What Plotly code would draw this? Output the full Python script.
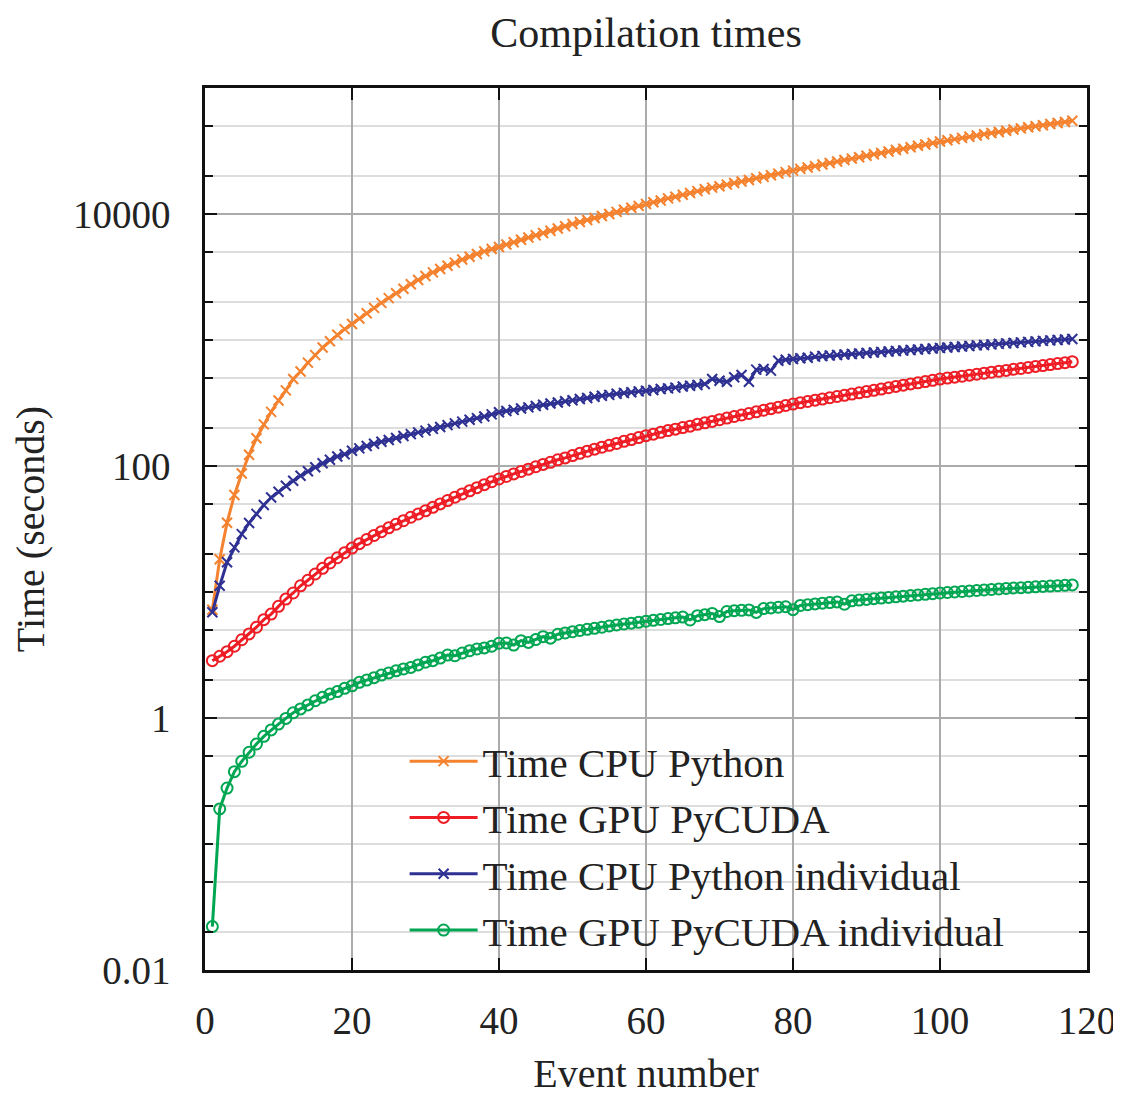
import plotly.graph_objects as go

# Event numbers 1..118
events = list(range(1, 119))

time_cpu_python = [
    7.24, 18.2, 35.5, 58.9, 87.1, 123, 166, 214, 269, 331,
    398, 490, 562, 661, 759, 871, 977, 1100, 1220, 1340,
    1480, 1630, 1800, 1970, 2150, 2350, 2550, 2770, 2990, 3220,
    3440, 3660, 3880, 4110, 4350, 4580, 4820, 5050, 5270, 5470,
    5720, 5970, 6240, 6500, 6780, 7060, 7360, 7670, 8000, 8320,
    8630, 8950, 9290, 9640, 10000, 10400, 10800, 11200, 11600, 12000,
    12400, 12800, 13300, 13700, 14200, 14700, 15200, 15700, 16200, 16600,
    17100, 17600, 18100, 18600, 19200, 19700, 20300, 20900, 21500, 22100,
    22800, 23400, 24000, 24700, 25400, 26100, 26800, 27500, 28200, 29000,
    29800, 30500, 31300, 32200, 33000, 33900, 34800, 35600, 36600, 37600,
    38500, 39300, 40200, 41000, 42000, 42900, 43900, 44800, 45800, 46800,
    47800, 48800, 49700, 50700, 51800, 52800, 53800, 55000,
]

time_gpu_pycuda = [
    2.85, 3.09, 3.36, 3.71, 4.18, 4.65, 5.25, 6.03, 6.68, 7.69,
    8.79, 9.82, 11.2, 12.4, 13.9, 15.4, 17.0, 18.7, 20.5, 22.3,
    24.2, 26.1, 28.1, 30.1, 32.3, 34.5, 36.8, 39.2, 41.6, 44.1,
    47.0, 50.0, 53.2, 56.5, 60.0, 63.5, 67.3, 71.1, 75.0, 78.9,
    82.6, 86.5, 90.4, 94.4, 98.6, 103, 107, 112, 116, 121,
    126, 131, 136, 141, 146, 151, 157, 162, 168, 174,
    179, 185, 191, 196, 202, 207, 214, 220, 226, 233,
    240, 247, 254, 261, 269, 277, 285, 293, 302, 310,
    318, 325, 333, 340, 348, 356, 364, 372, 381, 390,
    399, 408, 418, 428, 438, 448, 457, 468, 479, 490,
    499, 507, 516, 526, 535, 545, 555, 564, 574, 585,
    594, 605, 617, 627, 638, 650, 661, 673,
]

time_cpu_python_individual = [
    6.90, 11.2, 17.2, 22.6, 28.8, 35.3, 41.7, 49.0, 56.2, 62.5,
    69.8, 76.4, 83.8, 90.8, 97.7, 105, 112, 119, 124, 132,
    138, 144, 150, 156, 161, 167, 173, 179, 185, 191,
    197, 204, 211, 218, 225, 233, 240, 247, 257, 267,
    273, 279, 286, 292, 299, 306, 313, 319, 326, 333,
    340, 347, 354, 361, 367, 374, 380, 385, 391, 396,
    401, 408, 413, 419, 427, 434, 440, 448, 490, 475,
    467, 506, 527, 467, 582, 589, 571, 685, 698, 706,
    716, 724, 738, 746, 753, 760, 767, 774, 782, 789,
    796, 804, 811, 818, 826, 834, 841, 849, 857, 865,
    873, 881, 889, 897, 906, 914, 923, 931, 940, 948,
    957, 966, 975, 984, 993, 1000, 1010, 1020,
]

time_gpu_pycuda_individual = [
    0.0221, 0.190, 0.278, 0.375, 0.453, 0.535, 0.622, 0.715, 0.804, 0.895,
    0.993, 1.10, 1.18, 1.27, 1.37, 1.46, 1.55, 1.62, 1.72, 1.80,
    1.92, 2.00, 2.09, 2.19, 2.28, 2.37, 2.45, 2.52, 2.64, 2.77,
    2.85, 2.99, 3.16, 3.12, 3.28, 3.42, 3.53, 3.60, 3.71, 3.92,
    3.94, 3.79, 4.11, 3.98, 4.19, 4.42, 4.30, 4.62, 4.73, 4.84,
    4.95, 5.06, 5.15, 5.25, 5.37, 5.47, 5.57, 5.66, 5.75, 5.86,
    5.96, 6.05, 6.15, 6.24, 6.32, 6.00, 6.49, 6.61, 6.76, 6.38,
    7.00, 7.11, 7.16, 7.21, 6.89, 7.38, 7.48, 7.57, 7.64, 7.24,
    7.82, 7.93, 8.04, 8.15, 8.24, 8.34, 8.00, 8.51, 8.63, 8.73,
    8.85, 8.95, 9.06, 9.16, 9.27, 9.38, 9.48, 9.59, 9.70, 9.82,
    9.91, 10.0, 10.09, 10.19, 10.28, 10.38, 10.47, 10.57, 10.67, 10.74,
    10.81, 10.89, 10.99, 11.07, 11.14, 11.22, 11.30, 11.38,
]

x_ticks = [0, 20, 40, 60, 80, 100, 120]
y_major_ticks = [0.01, 1, 100, 10000]
y_major_labels = ["0.01", "1", "100", "10000"]
y_minor_ticks = [0.02, 0.05, 0.1, 0.2, 0.5, 2, 5, 10, 20, 50,
                 200, 500, 1000, 2000, 5000, 20000, 50000]

series = [
    ("Time CPU Python", time_cpu_python, "#F4822F", "x-thin"),
    ("Time GPU PyCUDA", time_gpu_pycuda, "#EE1D25", "circle-open"),
    ("Time CPU Python individual", time_cpu_python_individual, "#2E3192", "x-thin"),
    ("Time GPU PyCUDA individual", time_gpu_pycuda_individual, "#00A651", "circle-open"),
]

FONT = "Liberation Serif, DejaVu Serif, serif"

fig = go.Figure()
for name, vals, color, sym in series:
    fig.add_trace(go.Scatter(
        x=events[:len(vals)], y=vals, name=name, mode="lines+markers",
        line=dict(color=color, width=3),
        marker=dict(symbol=sym, size=11 if sym == "circle-open" else 10,
                    color=color, line=dict(color=color, width=2)),
    ))

# the page adds an 8px offset; plot area lands at x 205..1087, y 88..970
fig.update_layout(
    width=1121, height=1106,
    margin=dict(l=197, r=42, t=80, b=144),
    paper_bgcolor="white", plot_bgcolor="white",
    font=dict(family=FONT, size=39, color="#222222"),
    title=dict(text="Compilation times", x=(197 + 1079) / 2 / 1121, xanchor="center",
               y=1 - 24 / 1106, yanchor="middle", font=dict(size=42)),
    showlegend=True,
    legend=dict(x=0.2263, y=0.2744, xanchor="left", yanchor="top",
                bgcolor="rgba(0,0,0,0)", borderwidth=0,
                font=dict(size=41), itemwidth=68, tracegroupgap=0),
)

fig.update_xaxes(
    range=[0, 120], tickvals=x_ticks, ticks="inside", ticklen=12, tickwidth=2,
    tickcolor="#111111", showline=True, linecolor="#111111", linewidth=2.5,
    mirror="ticks", showgrid=True, gridcolor="#ABABAB", gridwidth=2,
    zeroline=False, ticklabelstandoff=14,
    title=dict(text="Event number", standoff=19, font=dict(size=40)),
    automargin=True,
)

fig.update_yaxes(
    type="log", range=[-2, 5], tickvals=y_major_ticks, ticktext=y_major_labels,
    ticks="inside", ticklen=12, tickwidth=2, tickcolor="#111111",
    showline=True, linecolor="#111111", linewidth=2.5, mirror="ticks",
    showgrid=True, gridcolor="#ABABAB", gridwidth=2, zeroline=False,
    ticklabelstandoff=24,
    minor=dict(tickmode="array", tickvals=y_minor_ticks, ticks="inside", ticklen=8,
               tickwidth=2, tickcolor="#111111", showgrid=True,
               gridcolor="#DDDDDD", gridwidth=1.5),
    title=dict(text="Time (seconds)", standoff=26, font=dict(size=40)),
    automargin=True,
)

fig.write_html("out.html")
